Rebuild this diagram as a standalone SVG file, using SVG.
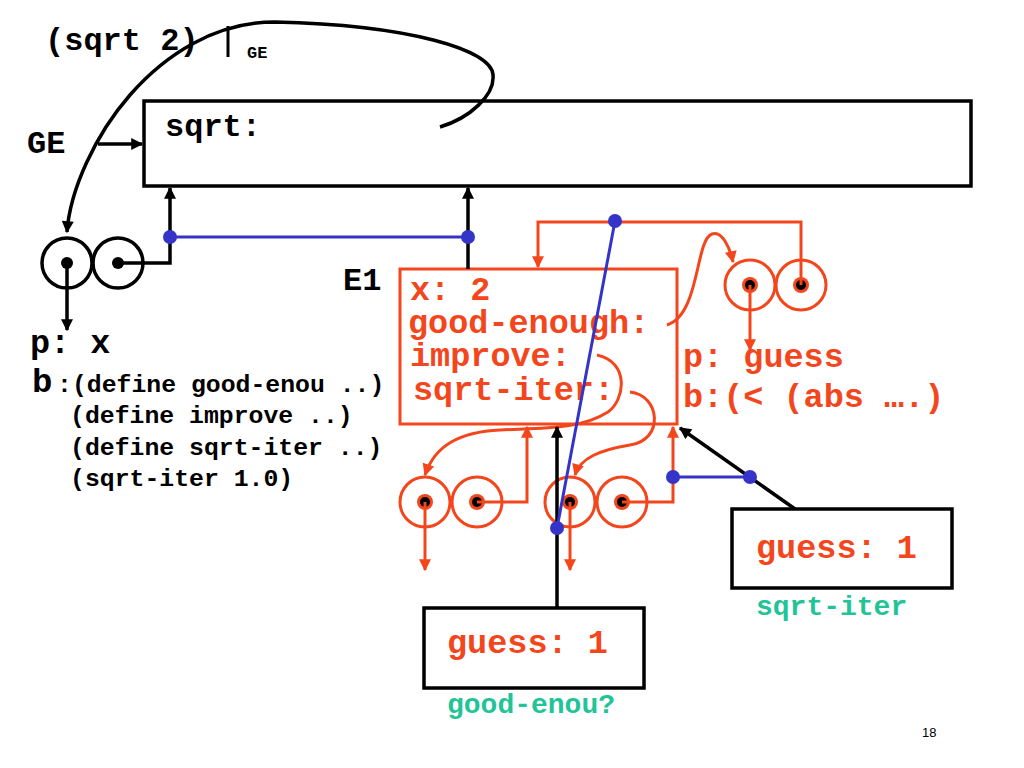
<svg xmlns="http://www.w3.org/2000/svg" width="1024" height="768" viewBox="0 0 1024 768">
<defs>
<style>
.t{font-family:"Liberation Mono","Courier New",monospace;font-weight:bold}
.big{font-size:32px}
.bg2{font-size:33.5px}
.sm{font-size:24.8px}
.gr{font-size:28px;fill:#22c497}
.or{fill:#f4461c}
.kl{stroke:#000;stroke-width:3.5;fill:none}
.ol{stroke:#f4461c;stroke-width:3;fill:none}
.bl{stroke:#3434c8;stroke-width:3;fill:none}
.bd{fill:#3434c8}
</style>
<marker id="ak" viewBox="0 0 10 10" refX="9" refY="5" markerWidth="14" markerHeight="12" markerUnits="userSpaceOnUse" orient="auto"><path d="M0,0 L10,5 L0,10 z" fill="#000"/></marker>
<marker id="ao" viewBox="0 0 10 10" refX="9" refY="5" markerWidth="14" markerHeight="12" markerUnits="userSpaceOnUse" orient="auto"><path d="M0,0 L10,5 L0,10 z" fill="#f4461c"/></marker>
</defs>
<rect width="1024" height="768" fill="#fff"/>

<g id="labels-top">
<text class="t big" x="45" y="50">(sqrt 2)</text>
<line x1="228" y1="26" x2="228" y2="57" stroke="#000" stroke-width="3"/>
<text class="t" x="247" y="58" font-size="17">GE</text>
<text class="t big" x="27" y="153">GE</text>
</g>

<g id="GE">
<rect x="144" y="101" width="827" height="85" class="kl"/>
<text class="t big" x="165" y="136">sqrt:</text>
</g>

<g id="proc-sqrt">
<circle cx="67" cy="263" r="25" class="kl"/>
<circle cx="118" cy="263" r="25" class="kl"/>
<circle cx="67" cy="263" r="6" fill="#000"/>
<circle cx="118" cy="263" r="6" fill="#000"/>
<text class="t bg2" x="30" y="353">p: x</text>
<text class="t" x="32" y="392" font-size="34">b</text>
<text class="t sm" x="57" y="392">:(define good-enou ..)</text>
<text class="t sm" x="70" y="423">(define improve ..)</text>
<text class="t sm" x="70" y="455">(define sqrt-iter ..)</text>
<text class="t sm" x="70" y="486">(sqrt-iter 1.0)</text>
</g>

<g id="E1">
<text class="t big" x="343" y="290">E1</text>
<rect x="400" y="269" width="277" height="155" class="ol"/>
<text class="t bg2 or" x="410" y="300">x: 2</text>
<text class="t bg2 or" x="408" y="333">good-enough:</text>
<text class="t bg2 or" x="410" y="366">improve:</text>
<text class="t bg2 or" x="413" y="400">sqrt-iter:</text>
</g>

<g id="proc-good-enough">
<circle cx="750" cy="285" r="25" class="ol"/>
<circle cx="801" cy="285" r="25" class="ol"/>
<circle cx="750" cy="285" r="8" class="or"/><circle cx="750" cy="285" r="5" fill="#000"/>
<circle cx="801" cy="285" r="8" class="or"/><circle cx="801" cy="285" r="5" fill="#000"/>
<text class="t bg2 or" x="683" y="367">p: guess</text>
<text class="t bg2 or" x="683" y="407">b:(&lt; (abs ….)</text>
</g>

<g id="proc-improve">
<circle cx="425" cy="502" r="25" class="ol"/>
<circle cx="477" cy="502" r="25" class="ol"/>
<circle cx="425" cy="502" r="8" class="or"/><circle cx="425" cy="502" r="5" fill="#000"/>
<circle cx="477" cy="502" r="8" class="or"/><circle cx="477" cy="502" r="5" fill="#000"/>
</g>

<g id="proc-sqrt-iter">
<circle cx="570" cy="502" r="25" class="ol"/>
<circle cx="622" cy="502" r="25" class="ol"/>
<circle cx="570" cy="502" r="8" class="or"/><circle cx="570" cy="502" r="5" fill="#000"/>
<circle cx="622" cy="502" r="8" class="or"/><circle cx="622" cy="502" r="5" fill="#000"/>
</g>

<g id="frame-good-enou">
<rect x="424" y="608" width="220" height="80" class="kl"/>
<text class="t bg2 or" x="447" y="653">guess: 1</text>
<text class="t gr" x="447" y="713">good-enou?</text>
</g>

<g id="frame-sqrt-iter">
<rect x="732" y="509" width="220" height="79" class="kl"/>
<text class="t bg2 or" x="756" y="558">guess: 1</text>
<text class="t gr" x="756" y="615">sqrt-iter</text>
</g>

<g id="connectors">
<path d="M440,127 C470,118 495,95 493,75 C492,50 410,25 275,22 C215,22 165,55 130,95 C95,135 70,190 67,232" class="kl" marker-end="url(#ak)" stroke-width="3"/>
<line x1="98" y1="144" x2="142" y2="144" class="kl" stroke-width="3" marker-end="url(#ak)"/>
<line x1="67" y1="263" x2="67" y2="330" class="kl" stroke-width="3" marker-end="url(#ak)"/>
<polyline points="118,263 170,263 170,188" class="kl" stroke-width="3" marker-end="url(#ak)"/>
<line x1="468" y1="269" x2="468" y2="188" class="kl" stroke-width="3" marker-end="url(#ak)"/>
<line x1="170" y1="237" x2="468" y2="237" class="bl"/>
<circle cx="170" cy="237" r="7" class="bd"/>
<circle cx="468" cy="237" r="7" class="bd"/>

<polyline points="801,285 801,222 538,222 538,267" class="ol" marker-end="url(#ao)"/>
<path d="M667,325 C700,315 695,240 712,234 C722,230 730,248 733,262" class="ol" marker-end="url(#ao)"/>
<line x1="750" y1="285" x2="750" y2="350" class="ol" marker-end="url(#ao)"/>

<line x1="425" y1="502" x2="425" y2="570" class="ol" marker-end="url(#ao)"/>
<polyline points="477,502 527,502 527,427" class="ol" marker-end="url(#ao)"/>
<line x1="570" y1="502" x2="570" y2="570" class="ol" marker-end="url(#ao)"/>
<polyline points="622,502 673,502 673,427" class="ol" marker-end="url(#ao)"/>
<path d="M597,355 C630,362 625,400 608,412 C580,430 540,428 500,430 C460,432 435,445 425,475" class="ol" marker-end="url(#ao)"/>
<path d="M630,392 C660,395 665,440 630,445 C600,450 580,458 575,475" class="ol" marker-end="url(#ao)"/>

<line x1="557" y1="608" x2="557" y2="427" class="kl" stroke-width="3" marker-end="url(#ak)"/>
<line x1="795" y1="509" x2="680" y2="428" class="kl" stroke-width="3" marker-end="url(#ak)"/>
<line x1="673" y1="477" x2="750" y2="477" class="bl"/>
<circle cx="673" cy="477" r="7" class="bd"/>
<circle cx="750" cy="477" r="7" class="bd"/>
<line x1="615" y1="221" x2="557" y2="528" class="bl"/>
<circle cx="615" cy="221" r="7" class="bd"/>
<circle cx="557" cy="528" r="7" class="bd"/>
</g>

<text x="922" y="737" font-family="Liberation Sans, Arial, sans-serif" font-size="13">18</text>
</svg>
